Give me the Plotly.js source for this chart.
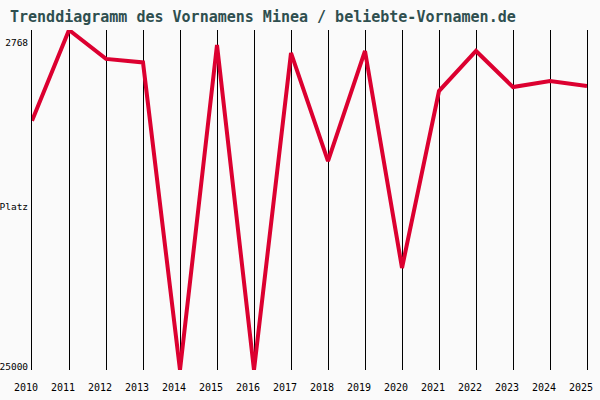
<!DOCTYPE html>
<html>
<head>
<meta charset="utf-8">
<script src="https://cdn.plot.ly/plotly-3.0.1.min.js"></script>
<style>
  body { margin: 0; background: #fafafa; }
  #chart { width: 600px; height: 400px; }
</style>
</head>
<body>
<div id="chart"></div>
<script>
// Jahre und Platzierungen (25000 = nicht in der Liste)
var years = [2010, 2011, 2012, 2013, 2014, 2015, 2016, 2017, 2018, 2019, 2020, 2021, 2022, 2023, 2024, 2025];
var ranks = [8700, 2768, 4660, 4890, 25000, 3750, 25000, 4270, 11340, 4140, 18330, 6760, 4140, 6500, 6100, 6430];

var rankTop = 2768;
var rankBottom = 25000;
var yTickVals = [3600, 14340, 24800];
var yTickText = ["2768", "Platz", "25000"];

var trace = {
  type: "scatter",
  mode: "lines",
  x: years,
  y: ranks,
  line: { color: "#dc0030", width: 4 },
  hoverinfo: "x+y"
};

var layout = {
  width: 600,
  height: 400,
  margin: { l: 32, r: 13, t: 30, b: 30 },
  paper_bgcolor: "#fafafa",
  plot_bgcolor: "#fafafa",
  showlegend: false,
  title: {
    text: "<b>Trenddiagramm des Vornamens Minea / beliebte-Vornamen.de</b>",
    font: { family: "DejaVu Sans Mono, monospace", size: 15, color: "#2f4f4f" },
    x: 10 / 600,
    xanchor: "left",
    xref: "container",
    y: 1 - 17 / 400,
    yanchor: "middle",
    yref: "container"
  },
  xaxis: {
    range: [2010, 2025],
    tickmode: "array",
    tickvals: years,
    ticktext: years.map(String),
    showgrid: true,
    gridcolor: "#000000",
    gridwidth: 1,
    zeroline: false,
    showline: false,
    ticks: "",
    ticklabelshift: -6,
    ticklabelstandoff: 10,
    tickfont: { family: "DejaVu Sans Mono, monospace", size: 10, color: "#000000" }
  },
  yaxis: {
    range: [rankBottom, rankTop],
    tickmode: "array",
    tickvals: yTickVals,
    ticktext: yTickText,
    showgrid: false,
    zeroline: false,
    showline: true,
    mirror: true,
    linecolor: "#000000",
    linewidth: 1,
    ticks: "",
    ticklabelstandoff: 1,
    tickfont: { family: "DejaVu Sans Mono, monospace", size: 9.5, color: "#000000" }
  }
};

Plotly.newPlot("chart", [trace], layout, { displayModeBar: false, staticPlot: true });
</script>
</body>
</html>
